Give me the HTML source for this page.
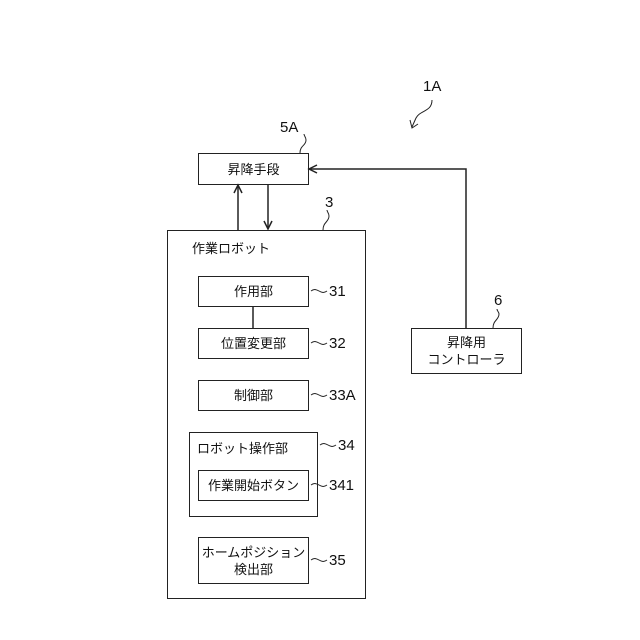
<!DOCTYPE html>
<html><head><meta charset="utf-8"><style>
body{margin:0;width:640px;height:640px;background:#fff;position:relative;overflow:hidden;font-family:"Liberation Sans","Noto Sans CJK JP",sans-serif;color:#111}
.b{position:absolute;border:1.5px solid #222;box-sizing:border-box;display:flex;align-items:center;justify-content:center;font-size:13px;text-align:center;line-height:17px}
.t{position:absolute;font-size:15px}
</style></head><body>
<svg width="640" height="640" style="position:absolute;left:0;top:0" fill="none" stroke="#222" stroke-width="1.5">
<line x1="238" y1="230" x2="238" y2="186"/><polyline points="234,193 238,185 242,193"/>
<line x1="268" y1="184" x2="268" y2="228"/><polyline points="264,221 268,229 272,221"/>
<polyline points="466,328 466,169 310,169"/><polyline points="317,165 309,169 317,173"/>
<line x1="253" y1="306" x2="253" y2="328"/>
<path d="M300,153 C300,145 306,146 306,140 C306,137 304,136 304,134" stroke-width="1"/>
<path d="M323,230 C323,222 329,222 329,216 C329,213 327,212 327,210" stroke-width="1"/>
<path d="M493,328 C493,320 499,320 499,314 C499,312 497,311 497,309" stroke-width="1"/>
<path d="M432,100 C432,112 420,110 416,118 L412,127" stroke-width="1"/><polyline points="410,120 412,128 418,124" stroke-width="1"/>
<path d="M311,291 C318,286 320,296 327,291" stroke-width="1"/>
<path d="M311,343 C318,338 320,348 327,343" stroke-width="1"/>
<path d="M311,395 C318,390 320,400 327,395" stroke-width="1"/>
<path d="M320,445 C327,440 329,450 336,445" stroke-width="1"/>
<path d="M311,485 C318,480 320,490 327,485" stroke-width="1"/>
<path d="M311,560 C318,555 320,565 327,560" stroke-width="1"/>
</svg>
<div class="b" style="left:198px;top:153px;width:111px;height:32px">昇降手段</div>
<div class="b" style="left:167px;top:230px;width:199px;height:369px"></div>
<div class="t" style="left:192px;top:238px;font-size:13px">作業ロボット</div>
<div class="b" style="left:198px;top:276px;width:111px;height:31px">作用部</div>
<div class="b" style="left:198px;top:328px;width:111px;height:31px">位置変更部</div>
<div class="b" style="left:198px;top:380px;width:111px;height:31px">制御部</div>
<div class="b" style="left:189px;top:432px;width:129px;height:85px"></div>
<div class="t" style="left:197px;top:438px;font-size:13px">ロボット操作部</div>
<div class="b" style="left:198px;top:470px;width:111px;height:31px">作業開始ボタン</div>
<div class="b" style="left:198px;top:537px;width:111px;height:47px">ホームポジション<br>検出部</div>
<div class="b" style="left:411px;top:328px;width:111px;height:46px">昇降用<br>コントローラ</div>
<div class="t" style="left:280px;top:119px">5A</div>
<div class="t" style="left:325px;top:194px">3</div>
<div class="t" style="left:423px;top:78px">1A</div>
<div class="t" style="left:494px;top:292px">6</div>
<div class="t" style="left:329px;top:283px">31</div>
<div class="t" style="left:329px;top:335px">32</div>
<div class="t" style="left:329px;top:387px">33A</div>
<div class="t" style="left:338px;top:437px">34</div>
<div class="t" style="left:329px;top:477px">341</div>
<div class="t" style="left:329px;top:552px">35</div>
</body></html>
